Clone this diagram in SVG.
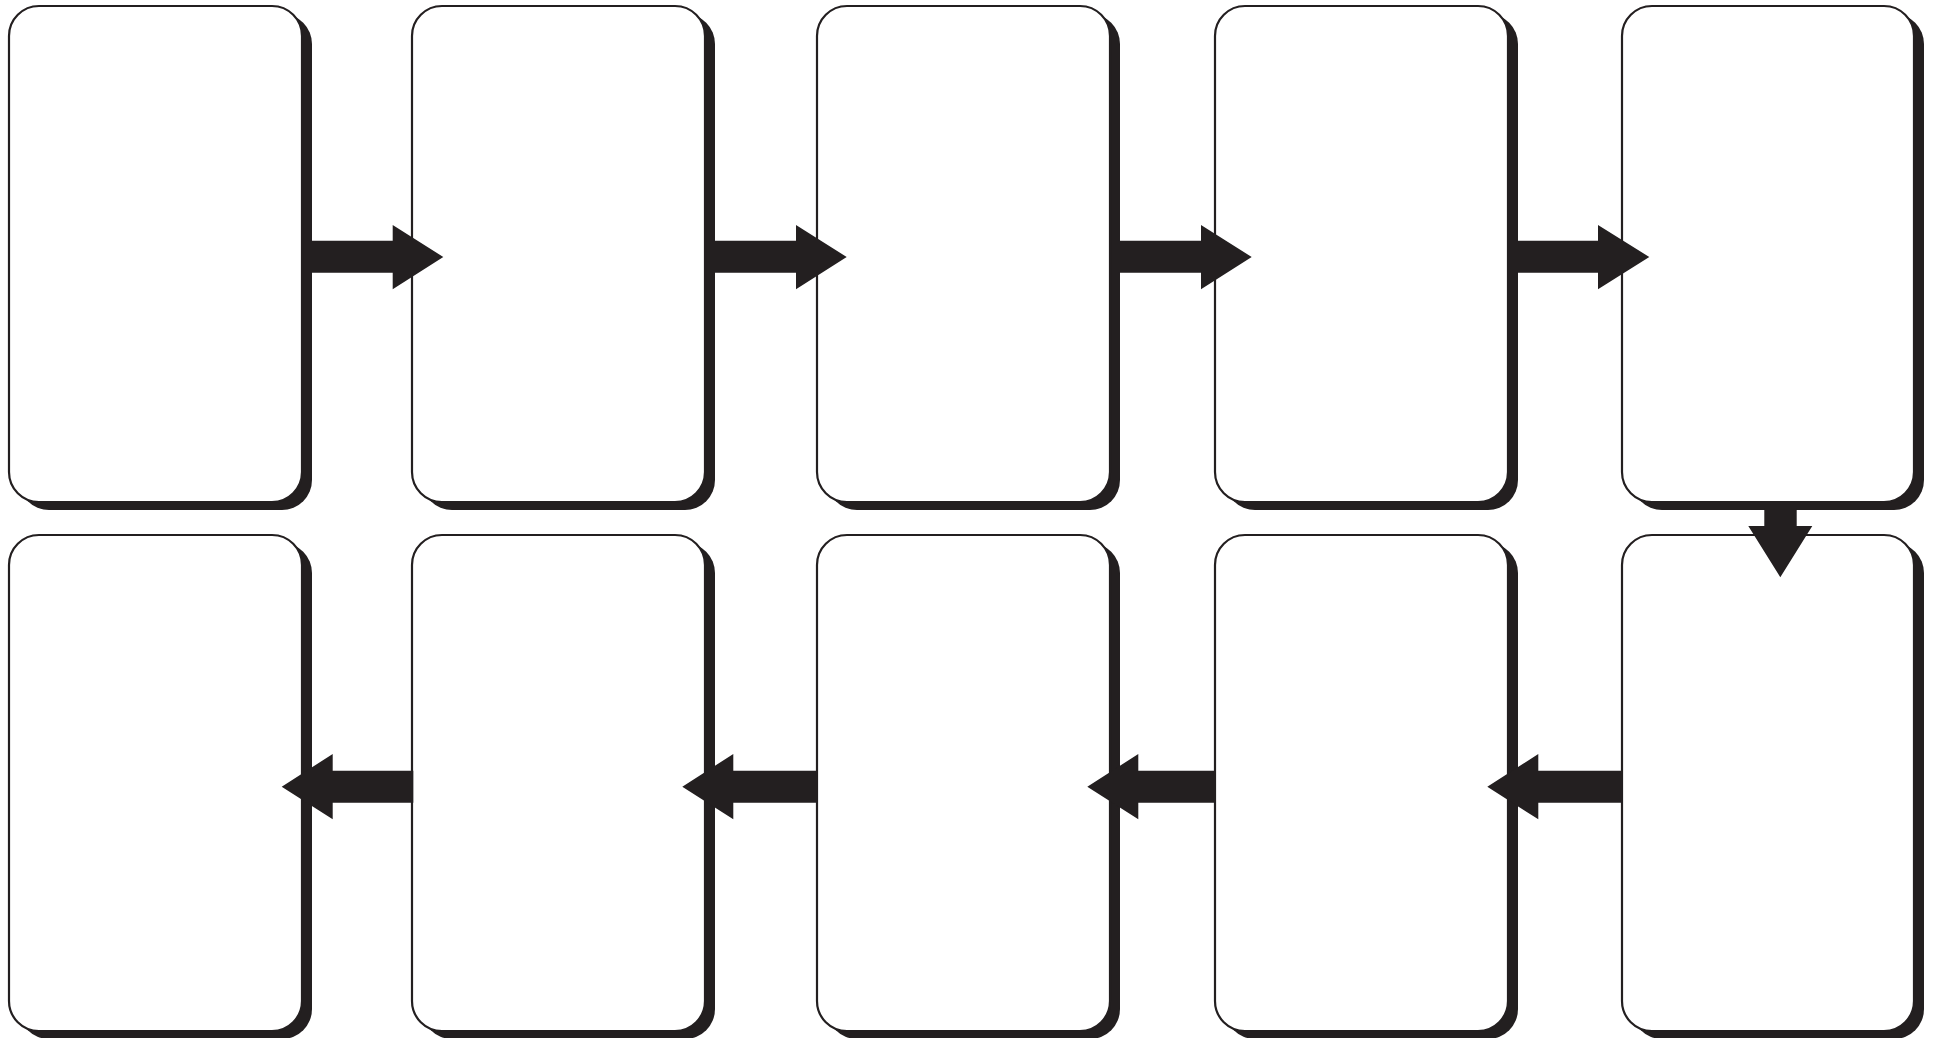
<svg xmlns="http://www.w3.org/2000/svg" width="1935" height="1038" viewBox="0 0 1935 1038">
<style>
.sh{fill:#231f20;stroke:none}
.bx{fill:#ffffff;stroke:#231f20;stroke-width:2.2}
.ar{fill:#231f20;stroke:none}
</style>
<rect width="1935" height="1038" fill="#ffffff"/>
<g id="node1"><rect class="sh" x="19" y="14" width="293" height="496" rx="30"/><rect class="bx" x="9" y="6" width="293" height="496" rx="30"/></g>
<g id="node2"><rect class="sh" x="422" y="14" width="293" height="496" rx="30"/><rect class="bx" x="412" y="6" width="293" height="496" rx="30"/></g>
<g id="node3"><rect class="sh" x="827" y="14" width="293" height="496" rx="30"/><rect class="bx" x="817" y="6" width="293" height="496" rx="30"/></g>
<g id="node4"><rect class="sh" x="1225" y="14" width="293" height="496" rx="30"/><rect class="bx" x="1215" y="6" width="293" height="496" rx="30"/></g>
<g id="node5"><rect class="sh" x="1632" y="14" width="292" height="496" rx="30"/><rect class="bx" x="1622" y="6" width="292" height="496" rx="30"/></g>
<g id="node6"><rect class="sh" x="19" y="543" width="293" height="496" rx="30"/><rect class="bx" x="9" y="535" width="293" height="496" rx="30"/></g>
<g id="node7"><rect class="sh" x="422" y="543" width="293" height="496" rx="30"/><rect class="bx" x="412" y="535" width="293" height="496" rx="30"/></g>
<g id="node8"><rect class="sh" x="827" y="543" width="293" height="496" rx="30"/><rect class="bx" x="817" y="535" width="293" height="496" rx="30"/></g>
<g id="node9"><rect class="sh" x="1225" y="543" width="293" height="496" rx="30"/><rect class="bx" x="1215" y="535" width="293" height="496" rx="30"/></g>
<g id="node10"><rect class="sh" x="1632" y="543" width="292" height="496" rx="30"/><rect class="bx" x="1622" y="535" width="292" height="496" rx="30"/></g>
<g id="connectors">
<polygon class="ar" points="310,240.7 392.7,240.7 392.7,225 443.3,257 392.7,289.3 392.7,272.7 310,272.7"/>
<polygon class="ar" points="713,240.7 796,240.7 796,225 846.7,257 796,289.3 796,272.7 713,272.7"/>
<polygon class="ar" points="1118,240.7 1201,240.7 1201,225 1251.7,257 1201,289.3 1201,272.7 1118,272.7"/>
<polygon class="ar" points="1516,240.7 1598,240.7 1598,225 1649.3,257 1598,289.3 1598,272.7 1516,272.7"/>
<polygon class="ar" points="1764.3,508 1796.7,508 1796.7,526 1812.3,526 1780.3,577.3 1748.3,526 1764.3,526"/>
<polygon class="ar" points="1622.7,770.7 1538.3,770.7 1538.3,754 1487.3,786.7 1538.3,819.3 1538.3,802.7 1622.7,802.7"/>
<polygon class="ar" points="1215,770.7 1138.3,770.7 1138.3,754 1087.3,786.7 1138.3,819.3 1138.3,802.7 1215,802.7"/>
<polygon class="ar" points="817.3,770.7 733.3,770.7 733.3,754 682.3,786.7 733.3,819.3 733.3,802.7 817.3,802.7"/>
<polygon class="ar" points="413.3,770.7 332.7,770.7 332.7,754 281.7,786.7 332.7,819.3 332.7,802.7 413.3,802.7"/>
</g>
</svg>
